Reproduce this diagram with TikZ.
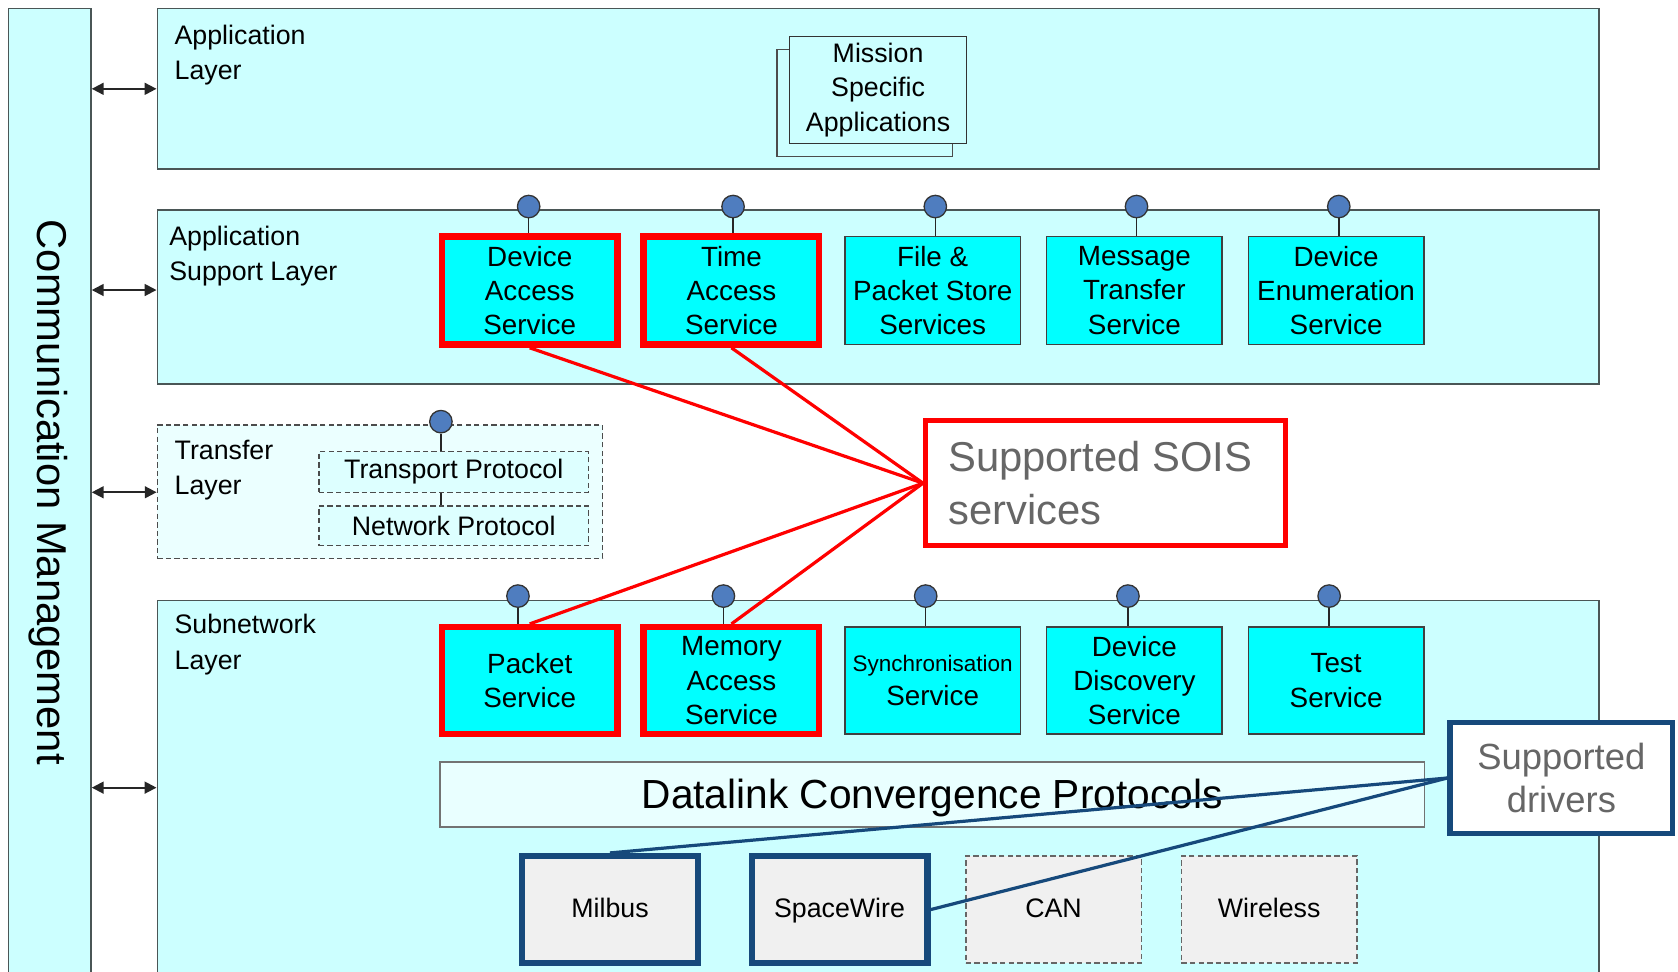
\documentclass[tikz,border=0pt]{standalone}
\usepackage{fontspec}
\setmainfont{Liberation Sans}
\usetikzlibrary{arrows.meta}
\definecolor{layercyan}{HTML}{CCFFFF}
\definecolor{svccyan}{HTML}{00FFFF}
\definecolor{lolliblue}{HTML}{4F7DBF}
\definecolor{navyb}{HTML}{16497B}
\definecolor{drvgray}{HTML}{F0F0F0}
\definecolor{soisgray}{HTML}{666666}
\definecolor{edgegray}{HTML}{4A5656}
\definecolor{xferfill}{HTML}{EBFFFF}
\definecolor{protofill}{HTML}{DDFFFF}
\definecolor{dlfill}{HTML}{E9FFFF}
\begin{document}
\begin{tikzpicture}[x=1pt,y=-1pt,
  layer/.style={draw=edgegray, fill=layercyan, line width=1.5pt, rectangle, inner sep=0pt},
  layerlabel/.style={anchor=north west, inner sep=0pt, align=left, font=\fontsize{25}{33}\selectfont},
  svc/.style={draw=black!75, fill=svccyan, line width=1.2pt, minimum width=164pt, minimum height=101pt, inner sep=0pt, align=center, font=\fontsize{26}{32}\selectfont},
  hot/.style={draw=red, line width=6pt},
  lolli/.style={circle, draw=black!80, fill=lolliblue, line width=1.2pt, minimum size=21pt, inner sep=0pt},
  stem/.style={draw=black!85, line width=1.4pt},
  dashbox/.style={draw=black!70, line width=1.3pt, dash pattern=on 5pt off 3pt},
  drv/.style={fill=drvgray, minimum width=164pt, minimum height=100pt, inner sep=0pt, text height=18pt, text depth=3pt, font=\fontsize{25}{30}\selectfont},
  drvsel/.style={drv, draw=navyb, line width=6pt},
  drvdash/.style={drv, dashbox, draw=black!60},
  biarrow/.style={{Triangle[length=11pt,width=11pt]}-{Triangle[length=11pt,width=11pt]}, line width=1.8pt, black!85},
  redline/.style={draw=red, line width=3pt},
  navyline/.style={draw=navyb, line width=3pt}
]
\useasboundingbox (0,0) rectangle (1568,908);
\clip (0,0) rectangle (1568,908);

% Communication management
\node[layer, minimum width=77pt, minimum height=932pt] (comm) at (46.5,474) {};
\node[rotate=-90, font=\fontsize{39}{44}\selectfont] (commtext) at (45,460) {Communication Management};

% Layers
\node[layer, minimum width=1347pt, minimum height=150pt] (appl) at (820.5,83) {};
\node[layer, minimum width=1347pt, minimum height=163pt] (asl) at (820.5,277.5) {};
\node[dashbox, fill=xferfill, minimum width=416pt, minimum height=125pt, inner sep=0pt] (xfer) at (355,459.5) {};
\node[layer, minimum width=1347pt, minimum height=350pt] (sub) at (820.5,736) {};

\node[layerlabel] (applL) at (163,23) {Application\\Layer};
\node[layerlabel] (aslL) at (158,211) {Application\\Support Layer};
\node[layerlabel] (xferL) at (163,411) {Transfer\\Layer};
\node[layerlabel] (subL) at (163,574) {Subnetwork\\Layer};

% arrows
\coordinate (ya) at (0,83);
\coordinate (yb) at (0,271);
\coordinate (yc) at (0,460);
\coordinate (yd) at (0,736);
\draw[biarrow] (comm.east |- ya) -- (appl.west |- ya);
\draw[biarrow] (comm.east |- yb) -- (asl.west |- yb);
\draw[biarrow] (comm.east |- yc) -- (xfer.west |- yc);
\draw[biarrow] (comm.east |- yd) -- (sub.west |- yd);

% Mission specific applications
\node[draw=black!70, fill=layercyan, line width=1.3pt, minimum width=164pt, minimum height=100pt] (msaback) at (808,96) {};
\node[draw=black!80, fill=layercyan, line width=1.3pt, minimum width=165pt, minimum height=100pt, inner sep=0pt, align=center, font=\fontsize{25}{32}\selectfont] (msa) at (820.5,84) {Mission\\Specific\\Applications};

% Application support services
\node[svc, hot] (das) at (495,271.5) {Device\\Access\\Service};
\node[svc, hot] (tas) at (683.5,271.5) {Time\\Access\\Service};
\node[svc] (fps) at (871.5,271.5) {File \&\\Packet Store\\Services};
\node[svc] (mts) at (1060,271.5) {Message\\Transfer\\Service};
\node[svc] (des) at (1248.5,271.5) {Device\\Enumeration\\Service};

\node[lolli] (l1) at (494,193) {};
\node[lolli] (l2) at (685,193) {};
\node[lolli] (l3) at (874,193) {};
\node[lolli] (l4) at (1062,193) {};
\node[lolli] (l5) at (1251,193) {};
\draw[stem] (l1.south) -- (das.north -| l1.south);
\draw[stem] (l2.south) -- (tas.north -| l2.south);
\draw[stem] (l3.south) -- (fps.north -| l3.south);
\draw[stem] (l4.south) -- (mts.north -| l4.south);
\draw[stem] (l5.south) -- (des.north -| l5.south);

% Transfer layer
\node[dashbox, fill=protofill, minimum width=252pt, minimum height=38pt, inner sep=0pt, font=\fontsize{25}{30}\selectfont] (tp) at (424,441) {Transport Protocol};
\node[dashbox, fill=protofill, minimum width=252pt, minimum height=37pt, inner sep=0pt, font=\fontsize{25}{30}\selectfont] (np) at (424,491.5) {Network Protocol};
\node[lolli] (l6) at (412,394) {};
\draw[stem] (l6.south) -- (tp.north -| l6.south);
\draw[stem] (tp.south -| l6.south) -- (np.north -| l6.south);

% Subnetwork services
\node[svc, hot, minimum height=100pt] (ps) at (495,636) {Packet\\Service};
\node[svc, hot, minimum height=100pt] (mas) at (683.5,636) {Memory\\Access\\Service};
\node[svc, minimum height=100pt] (sync) at (871.5,636) {{\fontsize{21}{26}\selectfont Synchronisation}\\Service};
\node[svc, minimum height=100pt] (dds) at (1060,636) {Device\\Discovery\\Service};
\node[svc, minimum height=100pt] (ts) at (1248.5,636) {Test\\Service};

\node[lolli] (m1) at (484,557) {};
\node[lolli] (m2) at (676,557) {};
\node[lolli] (m3) at (865,557) {};
\node[lolli] (m4) at (1054,557) {};
\node[lolli] (m5) at (1242,557) {};
\draw[stem] (m1.south) -- (ps.north -| m1.south);
\draw[stem] (m2.south) -- (mas.north -| m2.south);
\draw[stem] (m3.south) -- (sync.north -| m3.south);
\draw[stem] (m4.south) -- (dds.north -| m4.south);
\draw[stem] (m5.south) -- (ts.north -| m5.south);

% Datalink
\node[draw=black!55, fill=dlfill, line width=1.5pt, minimum width=920pt, minimum height=61pt, inner sep=0pt, text height=27.7pt, text depth=2pt, font=\fontsize{38}{44}\selectfont] (dl) at (871,742.5) {Datalink Convergence Protocols};

% Drivers
\node[drvsel] (mil) at (570,850) {Milbus};
\node[drvsel] (sw) at (784.5,850) {SpaceWire};
\node[drvdash] (can) at (984.5,850) {CAN};
\node[drvdash] (wl) at (1186,850) {Wireless};

% Supported SOIS services callout
\node[draw=red, line width=5pt, fill=white, minimum width=336pt, minimum height=117pt, text width=294pt, align=flush left, text=soisgray, font=\fontsize{39}{49}\selectfont] (sois) at (1033,451.5) {Supported SOIS\\services};
\draw[redline] (sois.west) -- (das.south);
\draw[redline] (sois.west) -- (tas.south);
\draw[redline] (sois.west) -- (ps.north);
\draw[redline] (sois.west) -- (mas.north);

% Supported drivers callout
\node[draw=navyb, line width=5pt, fill=white, minimum width=208pt, minimum height=104pt, align=center, text=soisgray, font=\fontsize{34}{41}\selectfont] (sd) at (1459,727) {Supported\\drivers};
\draw[navyline] (sd.west) -- (mil.north);
\draw[navyline] (sd.west) -- (sw.east);
\end{tikzpicture}
\end{document}
